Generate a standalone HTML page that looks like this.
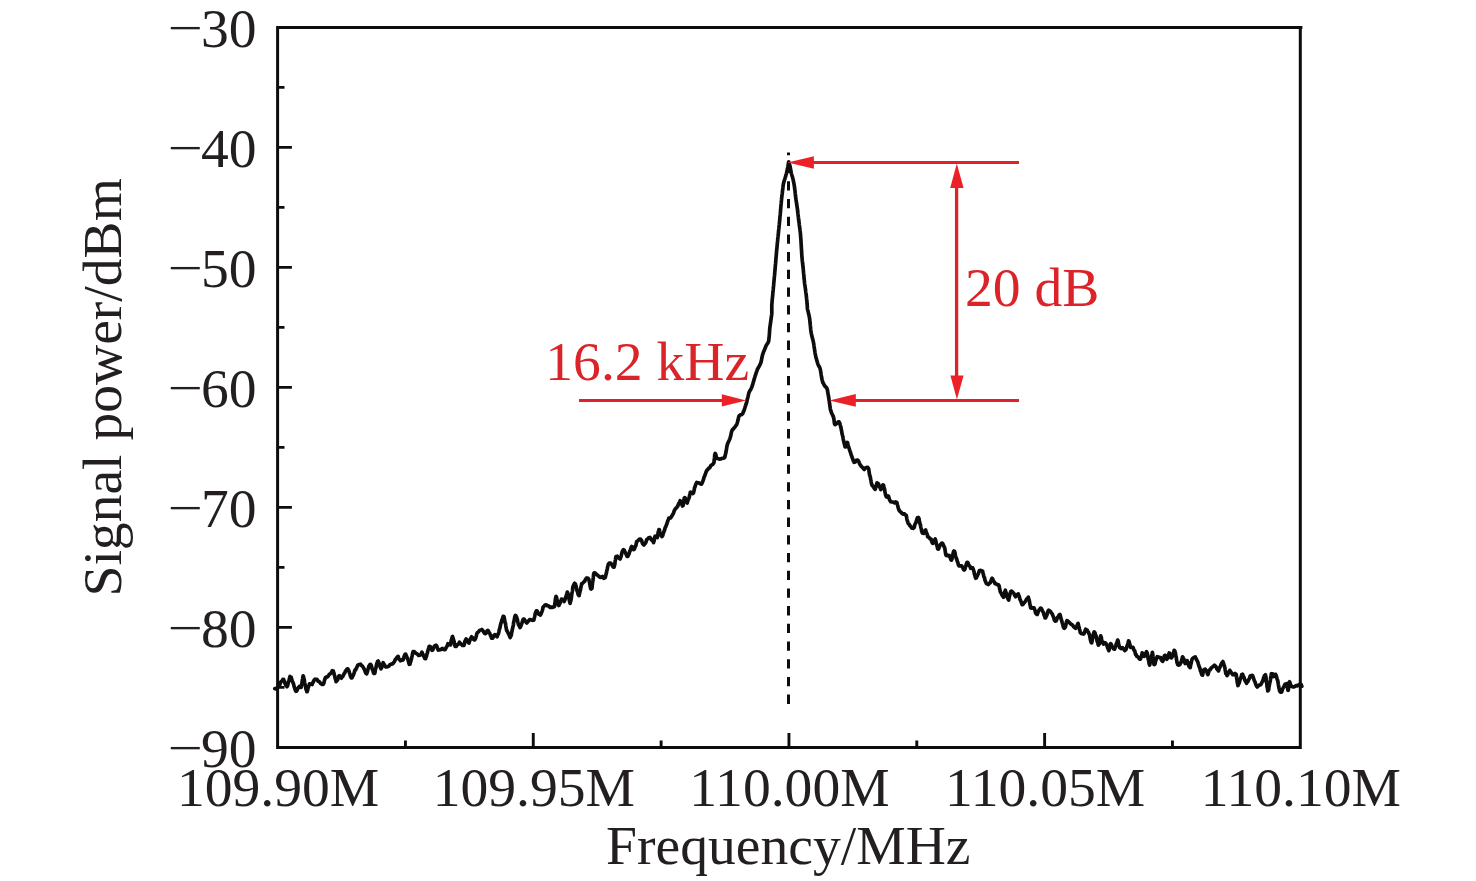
<!DOCTYPE html>
<html lang="en"><head><meta charset="utf-8"><title>Signal power vs frequency</title>
<style>html,body{margin:0;padding:0;background:#fff;}body{width:1476px;height:881px;overflow:hidden;}svg{display:block;}text{font-family:"Liberation Serif",serif;font-size:55.6px;}</style>
</head><body>
<svg width="1476" height="881" viewBox="0 0 1476 881">
<rect x="0" y="0" width="1476" height="881" fill="#ffffff"/>
<g fill="none" stroke="#0d0d0d" stroke-width="3.0" stroke-linecap="butt">
<path d="M276.10,27.40 H1302.40 M276.10,747.40 H1301.80 M277.60,27.40 V747.40 M1300.30,27.40 V747.40"/>
<path stroke-width="2.9" d="M405.44,747.40 V740.50 M533.27,747.40 V733.10 M661.11,747.40 V740.50 M788.95,747.40 V733.10 M916.79,747.40 V740.50 M1044.62,747.40 V733.10 M1172.46,747.40 V740.50 M277.60,87.40 H284.50 M277.60,147.40 H291.90 M277.60,207.40 H284.50 M277.60,267.40 H291.90 M277.60,327.40 H284.50 M277.60,387.40 H291.90 M277.60,447.40 H284.50 M277.60,507.40 H291.90 M277.60,567.40 H284.50 M277.60,627.40 H291.90 M277.60,687.40 H284.50"/>
</g>
<path d="M788.5,703.9 V152.6" fill="none" stroke="#0d0d0d" stroke-width="3" stroke-dasharray="9.3 8.4"/>
<path d="M274.8,688.6L275.6,688.9L276.9,687.8L278.2,686.6L278.7,686.5L279.4,685.8L280.1,683.7L280.9,681.8L281.7,681.1L282.4,680.7L282.9,679.3L283.5,679.3L284.1,680.8L284.7,682.3L285.4,684.4L286.0,685.4L286.6,686.0L287.0,686.6L287.4,686.1L287.7,685.1L288.1,683.7L288.5,681.7L288.9,681.0L289.3,679.2L289.6,677.9L290.0,676.5L290.4,677.0L290.8,677.4L291.2,677.3L291.6,678.8L292.1,680.7L292.6,681.9L293.2,683.1L293.7,684.6L294.2,686.9L294.7,688.1L295.2,689.9L295.6,690.6L295.9,691.3L296.6,691.1L297.4,689.6L298.1,687.8L298.8,687.2L299.3,686.4L300.2,687.2L301.1,687.3L301.3,686.8L301.5,686.1L301.7,684.0L302.0,682.9L302.3,680.1L302.6,678.8L302.8,677.7L303.1,675.9L303.4,676.3L303.6,676.9L303.8,677.9L304.1,679.2L304.4,680.7L304.7,682.8L305.1,684.6L305.4,685.5L305.7,687.2L306.0,689.4L306.3,689.7L306.6,690.5L306.8,691.6L307.2,691.6L307.6,690.3L308.0,688.1L308.4,687.2L308.8,686.0L309.2,684.8L309.5,683.8L310.9,684.1L312.2,684.5L312.8,682.7L313.5,681.5L314.3,679.8L315.0,679.2L315.8,679.5L317.0,679.4L318.1,681.3L319.1,681.6L319.9,682.5L320.8,683.7L321.7,684.2L322.4,684.5L322.9,684.4L323.3,684.3L323.9,683.0L324.4,680.7L324.9,679.2L325.4,677.7L325.9,678.0L326.8,676.8L327.9,676.6L329.1,674.6L329.9,674.0L330.7,673.4L331.5,672.1L332.3,670.7L332.9,670.8L333.2,670.8L333.6,672.4L333.9,672.8L334.3,675.0L334.7,675.8L335.1,678.2L335.4,679.0L335.8,680.1L336.1,681.6L336.7,680.8L337.4,680.2L338.2,678.3L338.9,675.9L339.5,675.6L340.5,676.4L341.5,678.2L342.1,676.6L342.8,676.6L343.6,674.7L344.2,673.6L344.8,672.8L345.5,671.0L346.3,670.3L347.0,669.0L347.7,668.9L348.0,669.9L348.5,669.9L349.0,671.3L349.5,672.9L350.0,674.3L350.5,676.4L350.9,677.1L351.3,677.9L351.9,677.9L352.6,676.4L353.3,675.2L354.0,673.4L354.6,671.2L355.1,669.8L355.7,669.9L356.3,668.3L356.8,667.3L357.4,665.9L357.9,665.1L359.2,664.5L360.6,664.2L361.4,665.4L362.3,666.0L363.2,667.3L364.0,668.7L364.5,669.9L365.1,671.4L365.7,673.0L366.2,673.5L366.7,673.8L367.1,672.4L367.5,671.7L367.9,669.5L368.4,668.2L368.8,666.4L369.3,665.7L369.7,664.9L370.1,664.5L370.6,664.3L371.1,665.0L371.6,666.6L372.2,669.2L372.8,670.1L373.3,672.2L373.8,673.4L374.2,673.0L374.5,673.4L374.9,673.0L375.2,670.6L375.6,668.6L376.0,667.8L376.3,665.7L376.7,664.1L377.0,663.1L377.3,662.4L377.6,661.3L378.1,661.0L378.8,662.3L379.4,664.3L380.0,666.4L380.6,667.7L381.0,668.8L381.6,667.7L382.1,666.7L382.6,664.3L383.1,662.7L383.9,664.2L384.8,665.4L385.8,667.0L386.7,667.0L387.8,666.7L389.0,666.1L389.9,664.7L391.2,664.1L392.6,663.9L393.2,663.2L393.8,662.3L394.6,661.3L395.4,659.3L396.2,658.6L396.9,657.5L397.4,656.9L398.2,656.4L398.8,658.7L399.4,659.4L400.5,660.7L401.7,659.8L402.8,660.2L403.3,659.5L403.7,657.9L404.2,656.4L404.6,655.3L405.1,654.3L405.6,654.1L405.9,654.8L406.3,655.3L406.8,657.2L407.3,657.9L407.8,659.4L408.3,660.7L408.8,662.8L409.3,664.3L409.6,663.5L410.0,664.1L410.3,662.5L410.6,662.0L411.0,660.3L411.4,659.1L411.7,657.4L412.1,655.9L412.4,654.3L412.7,652.8L413.1,651.7L414.4,651.7L415.9,653.3L417.1,653.9L418.6,655.3L419.9,655.1L420.5,654.7L421.2,653.8L421.9,652.1L422.3,653.0L422.9,654.3L423.5,656.0L424.1,656.8L424.8,658.4L425.3,658.7L425.6,658.7L426.0,657.1L426.5,656.1L426.9,654.1L427.4,652.8L427.9,650.7L428.3,649.3L428.7,648.0L429.1,646.4L429.4,646.3L430.3,646.7L431.3,648.7L432.1,650.3L432.7,650.1L433.4,648.2L434.2,646.5L434.9,645.7L435.5,645.7L436.1,645.2L436.9,646.4L437.6,648.8L438.3,650.1L438.9,650.0L440.0,649.8L441.3,649.2L442.3,648.4L443.7,649.5L445.1,649.7L445.7,648.5L446.4,647.1L447.2,646.0L447.9,643.7L448.5,644.1L449.6,644.6L450.5,644.9L450.8,643.2L451.1,641.0L451.5,639.6L451.9,638.8L452.2,637.0L452.6,636.5L452.8,637.3L453.1,638.1L453.4,639.6L453.8,640.5L454.2,641.8L454.5,644.4L454.9,645.2L455.2,646.5L455.6,646.5L456.2,646.4L457.0,644.9L457.8,644.6L458.7,643.7L459.4,642.2L460.3,643.3L461.4,644.3L462.5,645.5L463.4,645.3L463.9,645.3L464.4,643.8L464.8,641.6L465.3,640.5L465.7,639.9L466.1,639.0L467.0,640.0L468.0,642.1L468.9,643.1L469.5,641.4L470.2,639.3L471.0,637.9L471.6,636.8L472.4,637.6L473.4,639.2L474.3,639.9L474.7,640.0L475.2,639.0L475.7,638.1L476.2,636.3L476.7,634.2L477.3,632.6L477.7,632.4L478.6,631.7L479.8,630.2L480.9,630.0L481.8,629.5L482.6,630.3L483.6,631.7L484.5,633.2L485.2,633.7L486.1,633.1L487.0,631.0L487.9,630.4L488.4,631.0L489.0,632.6L489.6,633.0L490.3,634.9L491.0,636.3L491.6,638.2L492.0,638.0L492.7,638.2L493.5,636.6L494.2,635.1L494.7,634.7L495.5,634.8L496.3,636.1L497.1,636.7L497.3,636.2L497.6,635.0L498.0,634.3L498.4,633.8L498.8,632.1L499.2,630.1L499.5,629.0L499.9,628.1L500.2,626.2L500.5,625.1L501.0,623.1L501.4,622.2L501.9,619.8L502.4,618.7L502.8,617.7L503.2,616.3L503.6,616.4L503.9,616.5L504.2,617.5L504.5,619.3L504.8,620.9L505.1,622.8L505.5,623.4L505.8,626.0L506.1,627.6L506.4,629.1L506.7,630.5L507.0,630.9L507.5,631.6L508.2,633.3L508.9,634.4L509.5,635.9L510.2,637.5L510.7,636.3L510.9,635.9L511.2,635.5L511.5,633.6L511.7,632.5L512.0,631.3L512.3,629.3L512.6,628.5L512.9,626.8L513.2,625.9L513.4,624.5L513.6,622.6L513.8,621.7L514.2,620.3L514.6,617.8L515.0,616.2L515.4,615.4L515.9,615.6L516.1,616.8L516.5,616.8L516.9,618.0L517.4,619.6L517.8,621.9L518.3,624.0L518.8,625.3L519.2,625.7L519.6,626.5L520.0,627.5L520.4,627.1L520.9,626.0L521.4,624.5L521.9,623.2L522.5,621.4L522.9,620.0L523.4,619.1L524.1,619.1L525.1,620.5L526.0,622.2L526.8,623.0L527.5,622.1L528.5,621.0L529.4,619.8L530.2,619.6L531.3,620.0L532.5,620.3L533.6,619.8L533.9,620.0L534.2,618.3L534.6,616.9L534.9,615.4L535.2,613.7L535.6,612.9L535.9,611.9L536.3,610.8L537.0,610.8L537.8,612.5L538.8,614.2L539.7,614.4L540.4,615.0L540.8,614.3L541.2,613.3L541.7,612.2L542.1,611.1L542.6,609.6L543.0,607.4L543.4,606.8L543.8,606.5L544.9,605.0L546.1,604.8L547.2,605.7L548.5,605.8L549.9,607.4L551.2,607.2L552.8,607.3L554.0,606.5L554.3,606.8L554.6,606.0L554.8,603.9L555.1,602.4L555.3,600.0L555.6,598.0L555.8,597.6L556.0,596.4L556.4,596.9L556.7,598.2L557.2,601.0L557.6,603.2L558.0,604.2L558.4,604.8L558.8,605.5L559.2,604.8L559.6,604.1L560.1,603.0L560.6,601.0L561.1,600.2L561.5,599.1L562.3,599.3L563.3,600.7L564.2,601.5L564.6,600.3L565.0,599.9L565.5,597.7L565.9,596.7L566.4,595.1L566.9,593.6L567.3,592.1L567.6,592.7L567.9,593.6L568.2,594.0L568.6,596.5L568.9,598.1L569.2,599.5L569.5,601.0L569.8,602.6L570.1,603.3L570.3,601.9L570.5,601.9L570.7,601.1L570.9,600.3L571.2,598.8L571.4,597.3L571.7,595.1L572.0,592.6L572.2,592.1L572.5,590.5L572.7,588.2L572.9,586.9L573.1,586.4L573.9,584.5L574.7,583.3L575.5,584.2L575.8,585.4L576.2,586.4L576.5,588.4L576.9,590.3L577.3,591.5L577.7,592.2L578.1,594.5L578.5,594.4L578.8,595.7L579.1,595.6L579.4,593.8L579.7,593.1L580.0,591.0L580.4,590.3L580.7,588.4L581.1,586.4L581.4,585.3L581.7,583.5L581.9,583.9L582.8,583.0L583.8,581.9L584.7,581.2L585.4,579.5L586.3,578.2L587.3,578.1L588.1,578.3L588.4,578.9L588.7,579.0L589.1,580.5L589.4,581.9L589.8,584.0L590.2,586.4L590.5,588.0L590.9,588.9L591.2,589.0L591.5,588.3L591.7,588.5L591.9,588.5L592.1,587.3L592.3,585.0L592.5,582.9L592.7,581.9L592.9,580.7L593.1,579.0L593.3,577.5L593.5,575.5L593.7,573.6L594.0,573.4L594.2,572.9L595.0,572.9L596.0,573.8L597.1,574.8L598.1,575.8L599.0,576.4L600.1,577.4L601.4,577.1L602.4,576.4L603.7,578.3L605.1,577.6L605.3,577.4L605.6,576.1L606.0,574.4L606.3,573.4L606.7,571.3L607.0,570.1L607.4,568.4L607.8,566.0L608.2,564.8L608.5,563.7L608.9,563.6L609.2,563.1L609.9,563.1L610.7,563.0L611.7,564.6L612.6,566.1L613.4,567.2L614.0,567.1L614.2,566.7L614.5,565.4L614.7,564.9L614.9,563.8L615.1,561.4L615.3,560.5L615.5,559.5L615.7,557.8L616.0,556.5L617.2,556.2L618.8,558.1L620.1,559.0L620.5,557.6L620.9,557.1L621.3,555.5L621.8,553.2L622.2,551.6L622.7,550.9L623.1,549.9L623.5,549.7L624.1,549.9L624.7,551.5L625.5,552.8L626.2,554.4L627.0,556.4L627.6,556.5L628.0,556.1L628.5,554.7L629.1,553.9L629.7,551.3L630.3,550.4L630.8,548.6L631.3,547.1L631.7,546.5L632.6,547.2L633.6,549.6L634.4,549.0L634.7,548.2L635.1,547.1L635.5,546.0L635.9,545.5L636.3,543.4L636.7,541.5L637.1,541.5L638.2,540.4L639.4,539.2L640.5,539.1L641.0,539.8L641.6,540.4L642.2,542.6L642.8,543.8L643.4,544.5L643.9,545.0L644.5,544.0L645.3,543.3L646.0,542.0L646.7,539.6L647.3,539.4L648.7,537.8L650.0,537.4L650.8,538.7L651.8,540.3L652.8,541.0L653.5,542.6L653.8,541.7L654.1,540.9L654.4,538.5L654.7,537.2L654.9,536.7L655.2,536.1L656.2,536.9L657.2,537.6L657.5,536.6L657.7,535.6L658.0,533.6L658.3,531.6L658.6,530.8L658.9,529.7L659.3,529.7L659.8,532.0L660.4,533.8L661.0,534.6L661.5,536.1L662.0,536.5L662.4,535.9L662.8,535.4L663.2,533.3L663.7,532.5L664.2,530.7L664.6,530.2L665.0,528.2L665.4,527.4L665.8,526.6L666.3,525.2L666.9,523.7L667.4,522.1L667.9,520.6L668.4,519.3L668.8,518.1L669.6,518.2L670.6,518.0L671.5,516.6L672.2,515.3L672.8,514.2L673.3,513.7L673.9,511.7L674.5,510.2L675.0,509.4L675.8,508.3L676.8,507.4L677.7,506.2L678.1,505.3L678.6,503.7L679.2,503.0L679.7,502.0L680.1,500.7L680.6,501.6L681.2,502.1L681.9,504.4L682.4,506.0L682.9,505.7L683.1,505.4L683.3,504.7L683.6,502.2L683.8,501.3L684.0,499.5L684.3,497.9L684.5,497.9L684.9,497.6L685.5,498.8L686.1,501.3L686.7,501.9L687.2,503.0L687.5,501.6L687.9,500.7L688.3,499.1L688.7,498.9L689.2,497.5L689.6,495.3L690.0,493.9L690.3,492.3L690.6,492.2L691.8,492.7L692.9,493.6L693.2,493.2L693.5,492.8L693.8,491.4L694.2,489.9L694.5,487.7L694.9,487.3L695.1,486.6L695.4,485.4L696.0,483.8L696.7,482.5L697.4,482.8L698.7,482.8L700.2,483.8L701.5,484.2L702.0,483.2L702.5,482.2L702.9,481.0L703.4,479.6L703.8,478.4L704.2,476.8L704.6,476.2L705.1,474.6L705.6,473.5L706.2,471.6L706.7,470.6L707.2,470.1L707.7,469.5L708.6,468.4L709.8,467.6L710.9,465.5L711.7,465.1L712.9,464.2L713.8,462.9L714.0,462.3L714.1,460.8L714.3,459.3L714.5,457.9L714.6,456.1L714.8,454.5L715.0,454.2L715.1,453.4L715.5,453.7L715.9,455.0L716.3,456.8L716.7,458.4L717.2,458.5L718.2,458.7L719.4,459.1L720.6,459.0L721.9,458.4L723.5,458.2L724.7,457.4L725.0,456.4L725.2,455.3L725.5,454.3L725.8,452.9L726.0,452.0L726.3,450.2L726.6,448.5L726.8,447.2L727.0,445.7L727.2,445.3L727.6,443.7L728.1,442.7L728.6,441.6L729.1,440.5L729.6,439.3L730.0,438.5L730.3,437.2L730.6,436.3L730.9,434.9L731.3,433.2L731.6,431.5L732.0,430.8L732.3,429.8L733.0,429.3L733.8,428.3L734.8,427.2L735.7,426.0L736.3,425.0L736.7,424.5L737.0,423.7L737.4,422.5L737.7,421.2L738.1,419.8L738.4,418.3L738.7,417.0L739.0,415.9L739.8,415.3L740.8,414.7L741.8,414.4L742.7,413.8L743.0,412.8L743.4,411.7L743.9,411.0L744.3,409.6L744.8,408.1L745.2,406.7L745.6,405.6L746.0,404.3L746.3,403.6L746.6,402.7L746.9,401.4L747.2,399.7L747.6,398.4L747.9,397.2L748.2,395.8L748.5,394.4L748.8,393.2L749.0,392.5L749.5,391.4L750.1,390.4L750.7,389.5L751.3,388.2L751.8,387.0L752.1,386.4L752.4,385.2L752.8,384.2L753.1,382.8L753.5,381.6L753.9,380.4L754.2,379.2L754.5,378.0L754.8,377.1L755.2,375.8L755.6,374.6L756.0,373.4L756.4,372.1L756.8,371.1L757.2,370.0L757.6,368.9L758.2,368.0L758.8,366.9L759.4,365.8L760.0,364.7L760.5,363.6L760.9,362.7L761.1,361.8L761.4,360.5L761.6,359.2L761.9,358.0L762.1,356.7L762.4,355.6L762.7,354.5L763.0,353.5L763.4,352.4L763.9,351.1L764.5,349.8L765.0,348.5L765.5,347.3L765.9,346.2L766.3,345.4L766.9,344.3L767.6,343.4L768.2,342.3L768.7,340.9L768.8,340.1L768.9,339.1L769.0,337.9L769.2,336.6L769.3,335.2L769.4,333.8L769.5,332.3L769.6,330.9L769.7,329.6L769.8,328.3L769.9,327.2L770.1,326.2L770.2,325.0L770.4,323.7L770.6,322.3L770.8,320.9L771.0,319.5L771.2,318.1L771.4,316.8L771.5,315.6L771.7,314.5L771.8,313.6L771.8,312.3L771.8,311.0L771.8,309.7L771.8,308.4L771.8,307.2L771.8,306.0L771.8,304.9L771.9,303.9L772.0,302.7L772.1,301.4L772.2,300.1L772.3,298.7L772.5,297.4L772.6,296.1L772.7,294.9L772.8,293.9L772.9,292.7L773.0,291.4L773.2,290.0L773.3,288.6L773.4,287.1L773.6,285.7L773.7,284.3L773.8,283.1L773.9,282.0L774.0,280.9L774.1,279.8L774.2,278.5L774.3,277.3L774.5,275.9L774.6,274.6L774.7,273.4L774.8,272.1L774.9,271.0L775.0,269.9L775.1,268.8L775.2,267.6L775.3,266.3L775.4,264.9L775.6,263.4L775.7,262.0L775.8,260.6L775.9,259.3L776.0,258.1L776.1,257.0L776.2,255.9L776.3,254.8L776.4,253.5L776.5,252.3L776.6,251.0L776.8,249.6L776.9,248.4L777.0,247.1L777.1,246.0L777.2,244.9L777.3,243.8L777.4,242.6L777.6,241.3L777.7,239.9L777.8,238.4L778.0,237.0L778.1,235.6L778.3,234.3L778.4,233.1L778.5,232.0L778.6,230.9L778.7,229.8L778.9,228.5L779.0,227.2L779.1,225.9L779.3,224.5L779.4,223.3L779.5,222.1L779.6,221.0L779.7,220.0L779.8,218.8L779.9,217.6L780.0,216.3L780.2,214.9L780.3,213.6L780.4,212.3L780.5,211.1L780.6,210.0L780.7,208.9L780.8,207.6L780.9,206.3L781.0,204.8L781.2,203.4L781.3,202.1L781.4,200.9L781.5,199.9L781.6,198.6L781.8,197.3L781.9,195.8L782.1,194.5L782.3,193.2L782.4,192.0L782.5,190.8L782.7,189.4L782.9,187.9L783.0,186.4L783.2,185.1L783.4,184.0L783.7,182.8L784.0,181.5L784.4,180.2L784.8,179.0L785.1,178.0L785.5,176.7L785.9,175.3L786.3,173.9L786.6,172.7L786.8,171.7L787.1,170.5L787.4,169.2L787.6,168.0L787.8,167.0L788.0,165.8L788.2,164.5L788.5,163.2L788.7,161.9L789.1,163.2L789.5,164.5L789.9,165.8L790.2,167.0L790.4,168.0L790.6,169.2L790.8,170.5L791.0,171.7L791.2,172.7L791.5,173.9L791.9,175.3L792.4,176.7L792.7,178.0L793.0,179.0L793.2,180.2L793.5,181.5L793.8,182.8L794.0,184.0L794.2,185.1L794.4,186.4L794.6,187.9L794.8,189.4L795.0,190.8L795.1,192.0L795.2,193.2L795.4,194.5L795.5,196.0L795.7,197.4L795.9,198.7L796.0,199.9L796.2,201.0L796.4,202.2L796.6,203.5L796.8,204.8L797.0,206.2L797.2,207.5L797.3,208.4L797.5,209.5L797.6,210.8L797.8,212.1L797.9,213.5L798.1,214.9L798.3,216.3L798.4,217.7L798.6,218.9L798.7,220.0L798.8,221.1L799.0,222.3L799.2,223.5L799.3,224.9L799.5,226.3L799.7,227.6L799.9,229.0L800.0,230.2L800.2,231.4L800.3,232.5L800.4,233.6L800.5,234.7L800.6,236.0L800.7,237.3L800.8,238.7L800.9,240.1L801.0,241.4L801.1,242.7L801.1,243.8L801.2,244.9L801.3,246.0L801.3,247.2L801.4,248.4L801.5,249.8L801.6,251.1L801.7,252.5L801.7,253.9L801.8,255.1L801.9,256.3L802.0,257.4L802.1,258.5L802.2,259.7L802.3,260.9L802.5,262.3L802.6,263.6L802.8,265.0L802.9,266.4L803.1,267.6L803.2,268.8L803.3,269.9L803.4,271.0L803.5,272.2L803.6,273.4L803.8,274.8L803.9,276.1L804.0,277.5L804.1,278.9L804.3,280.1L804.4,281.3L804.5,282.4L804.6,283.5L804.8,284.7L805.0,286.0L805.2,287.4L805.4,288.8L805.6,290.2L805.7,291.5L805.9,292.8L806.1,293.9L806.2,294.9L806.3,296.1L806.5,297.5L806.6,298.9L806.8,300.3L806.9,301.7L807.0,303.0L807.1,304.1L807.2,304.9L807.3,306.4L807.3,307.6L807.5,309.1L807.7,310.0L808.0,311.1L808.3,312.4L808.6,313.8L809.0,315.3L809.3,316.8L809.5,318.2L809.7,319.0L809.8,320.1L809.9,321.3L810.0,322.6L810.2,324.0L810.3,325.4L810.5,326.8L810.6,328.2L810.7,329.5L810.9,330.7L811.0,331.8L811.2,332.7L811.4,333.9L811.7,335.2L812.0,336.5L812.3,337.8L812.7,339.1L813.0,340.4L813.3,341.6L813.5,342.7L813.7,343.6L813.9,344.8L814.0,346.0L814.2,347.2L814.4,348.6L814.6,349.9L814.8,351.2L815.0,352.5L815.2,353.5L815.3,354.4L815.6,355.6L815.9,357.0L816.3,358.5L816.7,359.9L817.1,361.3L817.4,362.5L817.8,363.7L818.1,364.5L818.6,365.7L819.2,366.6L819.8,367.7L820.2,369.0L820.4,370.0L820.6,371.0L820.8,372.2L821.0,373.6L821.2,375.0L821.5,376.5L821.7,377.9L821.9,378.9L822.1,379.9L822.5,381.3L822.9,382.6L823.5,383.5L824.0,384.7L824.4,385.3L825.0,386.3L825.8,387.0L826.5,387.6L827.1,388.8L827.3,389.9L827.6,390.9L827.8,392.3L828.0,393.8L828.3,394.9L828.5,396.5L828.8,397.9L829.0,399.5L829.2,400.9L829.3,401.6L829.5,403.1L829.7,404.4L829.9,406.0L830.1,407.4L830.3,408.8L830.5,409.7L830.8,410.6L831.1,411.7L831.6,413.1L832.1,414.1L832.7,415.2L833.1,416.3L833.5,417.1L833.8,418.5L834.0,419.7L834.2,421.6L834.4,423.0L834.7,424.2L835.0,424.6L835.8,424.1L837.0,423.3L838.2,421.8L839.1,421.9L839.4,422.6L839.8,423.2L840.1,424.7L840.5,425.8L840.8,427.3L841.2,428.9L841.5,430.7L841.8,432.1L842.0,433.5L842.3,434.7L842.6,435.7L842.9,436.9L843.2,439.1L843.5,440.6L843.9,442.0L844.2,443.4L844.5,444.5L844.8,445.6L845.0,446.8L845.2,446.9L845.7,446.9L846.3,445.5L846.8,443.4L847.2,442.4L847.6,442.6L847.9,444.4L848.3,445.9L848.7,447.3L849.1,448.2L849.6,450.1L850.0,451.2L850.3,451.9L850.7,453.1L851.2,454.9L851.7,456.0L852.2,457.8L852.8,459.1L853.2,460.6L853.7,461.1L854.1,462.3L855.2,461.9L856.4,460.3L857.5,460.0L858.0,460.4L858.6,461.3L859.2,462.8L859.8,464.2L860.4,465.0L860.9,465.9L862.0,467.0L863.2,468.3L864.3,469.5L865.4,467.9L866.7,467.4L867.7,467.3L868.0,468.0L868.4,468.4L868.8,469.5L869.1,471.7L869.4,473.9L869.7,475.3L869.9,475.7L870.2,476.7L870.4,477.6L870.7,479.4L870.9,480.0L871.2,482.1L871.5,483.6L871.8,484.7L872.3,485.8L873.1,486.0L873.9,487.7L874.6,488.8L875.2,489.3L875.6,487.7L876.1,486.9L876.5,485.0L877.0,482.9L877.5,483.3L878.0,483.3L878.7,484.3L879.4,486.1L880.2,488.0L880.8,489.6L881.3,489.0L881.9,488.0L882.4,486.9L882.9,485.0L883.4,485.4L883.6,485.3L883.8,486.4L884.1,487.8L884.4,488.5L884.7,489.9L885.0,492.2L885.3,493.2L885.6,495.2L885.9,495.2L886.1,496.6L887.1,497.1L888.1,495.9L888.6,496.5L889.1,498.3L889.7,500.3L890.3,500.8L890.8,501.8L891.9,502.0L893.2,502.1L894.2,502.9L895.5,501.8L896.6,502.5L896.9,502.6L897.3,504.5L897.8,505.9L898.2,508.0L898.6,508.8L899.0,510.1L899.8,511.2L900.8,512.0L901.7,513.0L903.0,514.1L904.6,513.9L905.8,515.2L906.2,515.3L906.5,516.4L906.8,518.6L907.1,520.3L907.4,520.8L907.9,522.6L908.4,523.9L909.1,524.2L910.0,525.9L910.9,526.7L911.8,528.1L912.6,528.1L913.3,528.4L913.8,527.5L914.2,527.5L914.7,525.2L915.3,523.5L915.8,523.0L916.3,521.4L916.8,519.6L917.3,517.9L917.7,518.1L918.1,517.9L918.4,517.5L918.7,518.1L919.1,518.9L919.4,521.4L919.8,522.6L920.1,524.3L920.5,525.0L920.8,527.1L921.1,528.3L921.4,529.1L921.6,530.7L922.3,533.1L923.0,533.1L923.6,533.4L924.3,533.2L925.0,530.6L925.7,530.0L926.0,531.6L926.4,532.4L926.8,533.4L927.3,534.7L927.7,536.8L928.8,537.3L930.1,538.8L931.1,539.0L931.6,541.1L932.0,542.1L932.5,543.3L933.0,543.3L933.8,541.9L934.5,540.5L935.2,539.0L935.5,540.0L935.8,540.6L936.2,543.0L936.5,544.0L936.9,545.6L937.3,546.8L937.6,548.8L937.9,549.0L938.4,549.1L939.0,547.9L939.6,546.3L940.2,545.0L940.8,544.2L941.3,543.6L942.0,543.1L942.7,543.6L943.5,545.4L944.2,546.8L944.7,548.0L945.0,549.3L945.2,551.0L945.4,552.6L945.6,553.2L945.8,554.6L946.1,555.4L947.1,555.6L948.4,555.3L949.5,555.7L949.9,557.2L950.4,558.1L950.8,559.5L951.2,560.2L951.5,560.2L951.8,559.4L952.1,558.4L952.3,556.9L952.7,554.8L953.0,554.1L953.3,552.7L953.6,551.4L953.9,551.0L954.2,551.3L954.6,551.4L955.0,552.8L955.4,555.4L955.9,557.1L956.3,558.5L956.7,558.9L957.0,560.4L957.4,561.6L957.9,562.6L958.3,564.6L958.7,564.9L959.0,565.9L960.0,565.8L961.1,565.8L961.6,565.9L962.3,566.8L963.0,568.2L963.6,569.6L964.2,570.0L964.6,569.7L965.0,568.9L965.5,566.7L965.9,565.7L966.4,564.2L966.8,562.9L967.2,562.3L967.8,562.5L968.6,564.7L969.4,565.8L970.1,566.4L970.6,568.3L971.7,567.9L972.7,567.8L972.9,568.8L973.2,568.8L973.6,570.7L974.0,571.4L974.3,573.8L974.7,574.8L975.1,576.2L975.5,577.7L975.8,578.2L976.3,577.9L977.0,576.5L977.7,574.9L978.3,573.8L979.0,571.6L979.5,570.6L980.9,570.4L982.2,571.4L982.6,571.1L983.0,573.0L983.4,574.4L983.8,576.4L984.2,577.3L984.6,577.9L984.9,580.0L985.4,581.2L986.0,582.6L986.5,583.6L987.0,583.6L988.3,584.6L989.7,583.0L990.3,582.6L990.9,581.4L991.6,578.9L992.1,578.3L992.7,579.0L993.3,580.9L993.9,581.4L994.6,582.5L995.1,583.7L996.3,583.9L997.5,585.0L998.6,584.9L998.9,585.5L999.3,586.6L999.6,588.8L999.9,589.5L1000.2,591.6L1000.6,592.5L1001.2,593.0L1001.9,595.0L1002.7,595.9L1003.5,597.2L1004.0,596.8L1004.3,595.8L1004.5,594.4L1004.7,593.3L1004.9,591.3L1005.1,591.3L1005.4,590.2L1005.6,591.5L1006.0,592.4L1006.4,593.8L1006.8,595.6L1007.3,597.1L1007.7,598.0L1008.1,599.0L1008.4,599.5L1008.7,600.1L1009.0,598.5L1009.3,596.9L1009.7,595.7L1010.0,594.0L1010.4,592.9L1010.8,591.4L1011.6,591.1L1012.6,592.2L1013.8,593.3L1014.8,595.5L1015.6,596.7L1016.5,595.3L1017.4,594.5L1018.3,593.9L1018.6,595.1L1019.0,595.7L1019.5,597.3L1020.0,599.5L1020.4,600.1L1021.0,601.5L1021.5,602.8L1021.9,604.3L1022.4,604.7L1023.1,604.3L1024.0,602.8L1024.9,602.1L1025.9,600.4L1026.9,598.7L1027.7,598.2L1028.3,597.2L1028.6,598.7L1029.0,599.6L1029.3,600.4L1029.5,601.8L1029.8,603.7L1030.0,604.9L1030.3,605.7L1030.6,607.8L1031.6,608.2L1032.9,607.7L1034.0,607.9L1034.4,608.8L1034.9,610.1L1035.3,611.9L1035.8,613.3L1036.3,613.3L1036.7,614.4L1037.2,614.5L1037.8,613.0L1038.5,611.2L1039.2,609.8L1039.9,609.0L1040.5,608.1L1041.0,608.2L1041.5,608.9L1042.1,609.9L1042.7,611.3L1043.4,612.6L1044.0,614.9L1044.6,616.1L1045.1,617.9L1045.6,617.9L1046.1,616.6L1046.7,615.5L1047.2,614.2L1047.7,611.8L1048.2,610.8L1048.7,610.2L1049.3,610.6L1050.1,611.2L1050.9,612.1L1051.7,613.4L1052.4,614.2L1052.8,615.4L1053.4,616.9L1053.9,618.2L1054.4,620.3L1055.0,620.4L1055.5,621.2L1056.1,620.9L1056.8,619.3L1057.6,617.2L1058.5,616.3L1059.2,614.7L1059.9,614.5L1060.2,615.1L1060.6,616.9L1060.9,618.3L1061.3,619.7L1061.8,621.0L1062.2,622.7L1062.6,624.0L1063.0,625.2L1063.3,626.9L1063.7,627.2L1064.0,628.2L1064.4,628.3L1064.9,627.8L1065.5,626.4L1066.0,624.5L1066.5,621.7L1067.0,620.6L1068.1,621.4L1069.5,622.7L1070.8,624.1L1071.6,624.5L1072.7,625.3L1073.8,627.0L1074.8,627.6L1075.5,628.4L1076.2,626.8L1076.8,626.0L1077.4,625.0L1077.8,623.6L1078.1,623.5L1078.5,625.1L1078.8,626.3L1079.2,627.7L1079.5,629.6L1079.9,630.5L1080.2,632.4L1081.3,633.6L1082.5,633.5L1083.6,634.0L1084.3,633.2L1085.0,630.8L1085.7,629.3L1086.3,629.6L1087.0,629.9L1087.7,631.4L1088.5,632.3L1089.1,634.2L1089.4,634.3L1089.7,636.0L1090.1,638.2L1090.5,640.1L1090.8,641.2L1091.2,642.5L1091.5,642.9L1091.8,642.7L1092.1,640.9L1092.4,639.2L1092.8,637.3L1093.1,635.9L1093.5,633.7L1093.8,632.6L1094.2,631.9L1094.5,632.4L1094.8,632.5L1095.2,633.5L1095.5,635.0L1096.0,635.6L1096.4,637.2L1096.8,640.0L1097.3,641.8L1097.7,642.3L1098.0,643.9L1098.4,645.1L1098.6,644.8L1099.0,644.4L1099.3,644.0L1099.6,642.0L1099.9,640.5L1100.2,638.1L1100.4,637.1L1100.7,635.8L1100.9,636.7L1101.3,637.2L1101.6,639.8L1102.0,641.2L1102.4,642.4L1102.7,642.9L1103.6,644.1L1104.7,642.6L1105.7,643.1L1106.1,643.7L1106.6,644.8L1107.1,646.1L1107.6,647.8L1108.1,648.6L1108.5,649.8L1108.8,650.7L1109.2,649.6L1109.5,647.9L1109.9,646.6L1110.2,644.4L1110.6,643.7L1111.2,644.2L1111.9,646.3L1112.8,647.3L1113.6,648.8L1114.3,648.5L1114.7,649.1L1115.2,647.4L1115.8,645.9L1116.3,643.6L1116.9,642.9L1117.3,641.3L1117.7,640.1L1118.1,640.9L1118.5,643.1L1118.9,645.2L1119.3,646.4L1119.7,647.6L1121.0,648.6L1122.5,647.7L1123.5,648.9L1124.8,650.5L1125.9,649.6L1126.2,649.0L1126.6,647.6L1127.1,645.6L1127.5,645.1L1127.9,643.9L1128.3,642.0L1128.6,640.8L1129.0,641.3L1129.4,642.5L1129.8,644.6L1130.3,646.4L1130.6,647.4L1131.7,647.2L1132.9,647.4L1133.3,648.0L1133.7,649.4L1134.2,650.5L1134.7,650.7L1135.2,652.9L1135.6,654.6L1136.1,654.5L1136.8,656.4L1137.7,656.6L1138.6,657.7L1139.5,659.1L1140.2,659.2L1140.6,658.8L1141.1,657.0L1141.5,656.2L1141.9,654.3L1142.2,652.9L1142.9,653.7L1143.6,655.1L1144.2,656.4L1144.8,655.1L1145.4,654.1L1146.0,653.0L1146.6,651.6L1146.8,652.2L1147.1,652.7L1147.4,654.1L1147.8,656.6L1148.1,658.7L1148.5,659.9L1148.8,661.5L1149.1,663.4L1149.4,664.7L1149.7,665.1L1150.0,663.8L1150.2,662.5L1150.5,662.0L1150.8,659.7L1151.1,657.7L1151.4,656.3L1151.7,655.5L1152.0,654.1L1152.2,653.4L1152.4,652.4L1152.6,653.6L1152.8,654.9L1153.0,656.3L1153.2,657.4L1153.4,659.6L1153.6,661.0L1153.8,663.2L1154.0,664.5L1154.2,663.8L1154.6,664.5L1155.1,663.7L1155.6,661.2L1156.2,659.3L1156.7,657.8L1157.2,656.7L1158.3,657.0L1159.6,657.5L1160.6,657.5L1161.3,659.8L1162.0,660.7L1162.6,661.4L1163.0,660.8L1163.4,659.6L1163.9,657.5L1164.3,656.0L1164.7,655.5L1165.2,655.3L1165.7,656.7L1166.2,658.2L1166.7,659.3L1167.2,658.6L1167.7,657.6L1168.2,656.3L1168.7,654.6L1169.2,652.9L1169.7,653.4L1170.3,654.9L1170.9,657.8L1171.5,657.9L1171.9,657.2L1172.5,655.8L1173.0,654.1L1173.6,652.7L1174.2,650.3L1174.6,650.9L1174.9,651.1L1175.1,652.6L1175.4,652.8L1175.7,654.8L1176.0,656.7L1176.3,657.5L1176.6,660.1L1176.8,660.9L1177.1,663.0L1177.4,663.1L1177.6,664.6L1178.7,665.2L1180.0,664.4L1181.0,662.0L1181.4,661.9L1181.8,659.4L1182.2,658.5L1182.5,656.8L1182.8,657.0L1183.1,657.8L1183.5,658.6L1184.0,659.3L1184.4,662.1L1184.8,662.4L1185.1,663.5L1185.8,663.2L1186.5,661.1L1187.2,660.6L1187.5,661.8L1188.0,662.4L1188.5,664.9L1189.0,666.3L1189.5,667.1L1189.9,667.0L1190.2,667.6L1190.5,665.9L1190.9,664.2L1191.3,662.3L1191.6,661.2L1192.0,659.4L1192.3,658.9L1192.6,658.4L1193.9,657.5L1195.3,657.0L1195.7,657.9L1196.2,658.7L1196.7,660.0L1197.3,661.0L1197.8,662.1L1198.3,663.8L1198.8,665.3L1199.1,666.4L1199.6,667.5L1200.0,668.6L1200.5,671.1L1201.0,671.6L1201.4,673.4L1201.8,674.8L1202.2,675.1L1202.6,675.1L1203.0,672.9L1203.5,671.0L1203.8,669.8L1204.2,669.7L1205.2,669.1L1206.2,671.0L1206.8,671.6L1207.3,673.5L1207.9,674.6L1208.3,673.5L1208.7,672.1L1209.2,670.3L1209.8,669.6L1210.3,669.6L1211.2,668.0L1212.3,667.1L1213.4,666.2L1214.4,665.2L1215.2,665.9L1216.0,666.7L1216.9,669.0L1217.8,669.9L1218.5,670.9L1218.9,669.7L1219.4,668.2L1220.0,667.0L1220.5,666.1L1221.0,664.5L1221.5,663.5L1222.0,662.7L1222.3,662.3L1222.9,661.5L1223.5,663.5L1224.1,665.0L1224.5,665.9L1224.7,667.3L1225.0,668.2L1225.2,670.0L1225.5,671.6L1225.8,673.5L1226.0,673.8L1226.3,674.1L1226.6,674.6L1227.1,675.6L1227.8,674.5L1228.5,672.5L1229.3,671.4L1229.8,670.3L1230.5,671.6L1231.3,672.7L1232.0,673.7L1232.7,674.6L1233.8,674.8L1235.0,673.5L1236.0,674.2L1236.2,674.4L1236.4,675.5L1236.6,677.3L1236.8,679.3L1237.1,680.6L1237.3,682.9L1237.5,683.0L1237.7,684.6L1238.0,685.6L1238.3,684.2L1238.7,684.1L1239.2,683.0L1239.7,681.0L1240.2,679.5L1240.7,677.8L1241.2,676.8L1241.7,674.6L1242.1,674.7L1242.6,674.2L1243.3,676.3L1244.0,677.3L1244.7,679.7L1245.4,681.4L1246.0,681.9L1246.6,683.3L1247.2,681.7L1247.9,681.5L1248.7,679.5L1249.5,678.4L1250.2,676.0L1250.9,675.7L1251.5,675.6L1252.0,675.4L1252.5,675.5L1253.1,676.8L1253.7,678.7L1254.2,680.2L1254.8,681.7L1255.2,682.4L1255.6,683.8L1256.4,685.9L1257.2,687.0L1258.0,686.1L1258.7,685.7L1259.6,684.8L1260.5,684.9L1261.4,683.7L1262.1,681.8L1262.7,681.3L1263.2,679.3L1263.8,677.3L1264.4,675.9L1265.0,675.3L1265.4,674.8L1265.6,676.2L1265.8,676.2L1266.0,677.3L1266.2,679.6L1266.4,681.9L1266.6,682.3L1266.8,683.8L1267.0,686.6L1267.2,687.3L1267.4,688.3L1267.6,689.2L1267.8,691.0L1268.0,690.8L1268.2,689.9L1268.4,690.0L1268.7,689.5L1268.9,687.5L1269.2,686.0L1269.5,684.2L1269.8,682.7L1270.1,681.7L1270.4,680.0L1270.7,677.6L1270.9,676.2L1271.1,675.3L1271.4,673.7L1271.5,674.2L1272.6,673.8L1273.6,676.5L1274.4,674.7L1275.2,674.3L1275.6,674.4L1276.1,675.3L1276.6,677.0L1277.2,679.6L1277.7,680.3L1277.9,681.6L1278.1,682.8L1278.4,684.8L1278.7,686.3L1279.0,688.2L1279.3,689.3L1279.6,690.7L1279.9,691.2L1280.2,691.5L1280.5,692.2L1281.0,692.2L1281.7,692.0L1282.4,689.5L1283.2,687.8L1283.9,686.7L1284.6,685.1L1285.0,684.3L1286.7,683.7L1286.9,685.1L1287.2,686.0L1287.6,688.5L1287.9,690.2L1288.1,690.0L1288.3,690.3L1288.5,688.6L1288.7,687.7L1288.9,686.3L1289.1,683.4L1289.3,682.0L1289.5,681.8L1289.9,682.4L1290.5,684.5L1291.0,685.4L1291.5,686.4L1292.7,686.9L1294.0,686.9L1295.0,686.4L1296.2,685.5L1297.3,685.8L1298.8,685.0L1300.1,684.0L1301.1,684.5L1301.8,686.2" fill="none" stroke="#0d0d0d" stroke-width="3.7" stroke-linejoin="round" stroke-linecap="round"/>
<g fill="none" stroke="#dd2229" stroke-width="3">
<path d="M810,162.5 H1019 M852,400.4 H1019 M579,400.4 H724 "/><path stroke-width="3.3" d="M956.6,184 V378"/>
</g>
<g fill="#ec2127" stroke="none">
<path d="M787.6,162.5 L813.9,156.2 V168.8 Z"/>
<path d="M829.4,400.4 L855.8,394.1 V406.7 Z"/>
<path d="M746.2,400.4 L721.8,394.2 V406.6 Z"/>
<path d="M956.8,163.6 L950.2,187.9 H963.6 Z"/>
<path d="M956.9,399.6 L950.4,375.4 H963.6 Z"/>
</g>
<g fill="#231f20">
<text transform="translate(167.9,43.6) scale(1.12,0.86)">−</text><text x="256.5" y="46.9" text-anchor="end">30</text>
<text transform="translate(167.9,163.6) scale(1.12,0.86)">−</text><text x="256.5" y="166.9" text-anchor="end">40</text>
<text transform="translate(167.9,283.6) scale(1.12,0.86)">−</text><text x="256.5" y="286.9" text-anchor="end">50</text>
<text transform="translate(167.9,403.6) scale(1.12,0.86)">−</text><text x="256.5" y="406.9" text-anchor="end">60</text>
<text transform="translate(167.9,523.6) scale(1.12,0.86)">−</text><text x="256.5" y="526.9" text-anchor="end">70</text>
<text transform="translate(167.9,643.6) scale(1.12,0.86)">−</text><text x="256.5" y="646.9" text-anchor="end">80</text>
<text transform="translate(167.9,763.6) scale(1.12,0.86)">−</text><text x="256.5" y="766.9" text-anchor="end">90</text>
<text x="278.1" y="806.2" text-anchor="middle">109.90M</text>
<text x="533.8" y="806.2" text-anchor="middle">109.95M</text>
<text x="789.5" y="806.2" text-anchor="middle">110.00M</text>
<text x="1045.1" y="806.2" text-anchor="middle">110.05M</text>
<text x="1300.8" y="806.2" text-anchor="middle">110.10M</text>
<text x="788.3" y="863.8" text-anchor="middle">Frequency/MHz</text>
<text transform="translate(120.5,387.3) rotate(-90)" text-anchor="middle">Signal power/dBm</text>
</g>
<g fill="#db242a">
<text x="545.3" y="379.7">16.2 kHz</text>
<text x="964.9" y="305.8">20 dB</text>
</g>
</svg>
</body></html>
